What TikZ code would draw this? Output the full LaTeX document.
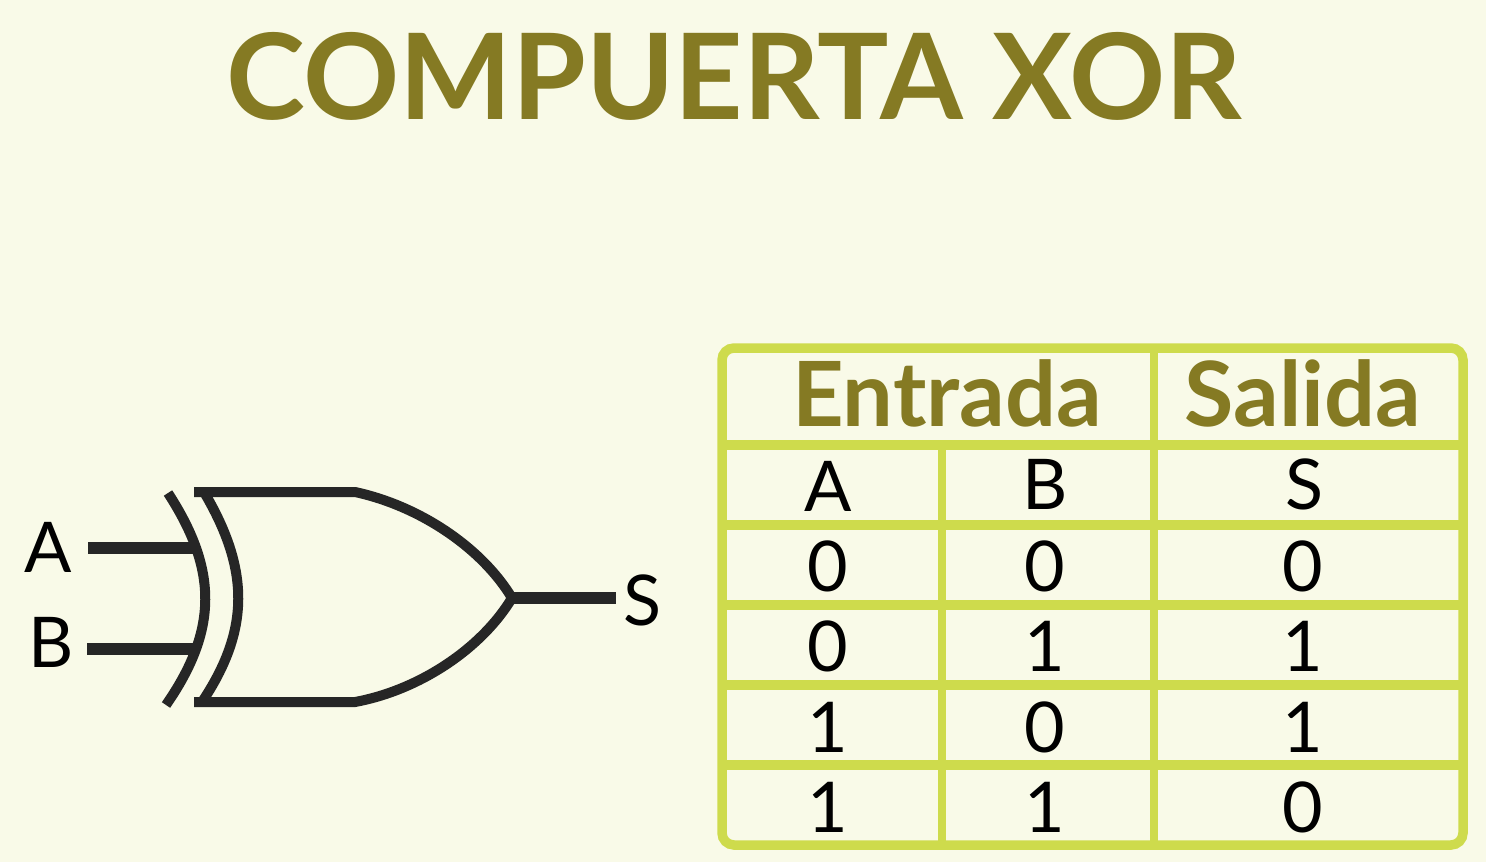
\documentclass[tikz,border=0pt]{standalone}
\usepackage{fontspec}
\setmainfont{Lato}
\definecolor{paper}{HTML}{F9FAE8}
\definecolor{olive}{HTML}{857A23}
\definecolor{lime}{HTML}{CEDB4C}
\definecolor{ink}{HTML}{262626}
\tikzset{
  gateline/.style = {draw=ink, line width=10pt},
  wire/.style     = {draw=ink, line width=12pt},
  gridline/.style = {draw=lime, line width=9.5pt},
  heading/.style  = {text=olive, font=\fontsize{90}{92}\bfseries\selectfont, inner sep=0pt},
  cell/.style     = {text=black, font=\fontsize{70}{72}\selectfont, inner sep=0pt},
}
\begin{document}
\begin{tikzpicture}[x=1pt, y=-1pt]
  \fill[paper] (0,0) rectangle (1486,862);
  \useasboundingbox (0,0) rectangle (1486,862);

  \node [text=olive, font=\fontsize{119.2}{122}\bfseries\selectfont, inner sep=0pt] (title) at (734,76) {COMPUERTA XOR};

  % gate
  \draw[gateline] (194,492) -- (355,492)
    .. controls (420,506) and (482,548) .. (512,598)
    .. controls (482,648) and (420,690) .. (355,702) -- (194,702);
  \draw[gateline] (204,492) .. controls (250,570) and (250,630) .. (202,702);
  \draw[gateline] (168,493) .. controls (218,570) and (218,630) .. (166,705);

  \coordinate (backA) at (193,548);
  \coordinate (backB) at (193,649);
  \coordinate (tip)   at (510,598);
  \coordinate (endA)  at (88,548);
  \coordinate (endB)  at (87,649);
  \coordinate (endS)  at (616,598);
  \draw[wire] (endA) -- (backA);
  \draw[wire] (endB) -- (backB);
  \draw[wire] (tip) -- (endS);

  \node [cell] (labA) at (48,547) {A};
  \node [cell] (labB) at (51,642) {B};
  \node [cell] (labS) at (642,600) {S};

  % table
  \foreach \y in {445,525,605,685,765}
    \draw[gridline] (722,\y) -- (1463,\y);
  \draw[gridline, line width=8pt] (1154,348) -- (1154,845);
  \draw[gridline, line width=8pt] (942,445) -- (942,845);
  \draw[gridline, rounded corners=12pt] (722,348) rectangle (1463,845);

  \node [heading] (entrada) at (947,393) {Entrada};
  \node [heading] (salida)  at (1303,393) {Salida};

  \node [cell] (headA) at (828,486) {A};
  \node [cell] (headB) at (1045,484) {B};
  \node [cell] (headS) at (1304,484) {S};
  \foreach \a/\b/\s [count=\i from 0] in {0/0/0, 0/1/1, 1/0/1, 1/1/0} {
    \node [cell] (a\i) at (828,566+80.5*\i) {\a};
    \node [cell] (b\i) at (1045,566+80.5*\i) {\b};
    \node [cell] (s\i) at (1303,566+80.5*\i) {\s};
  }
\end{tikzpicture}
\end{document}
